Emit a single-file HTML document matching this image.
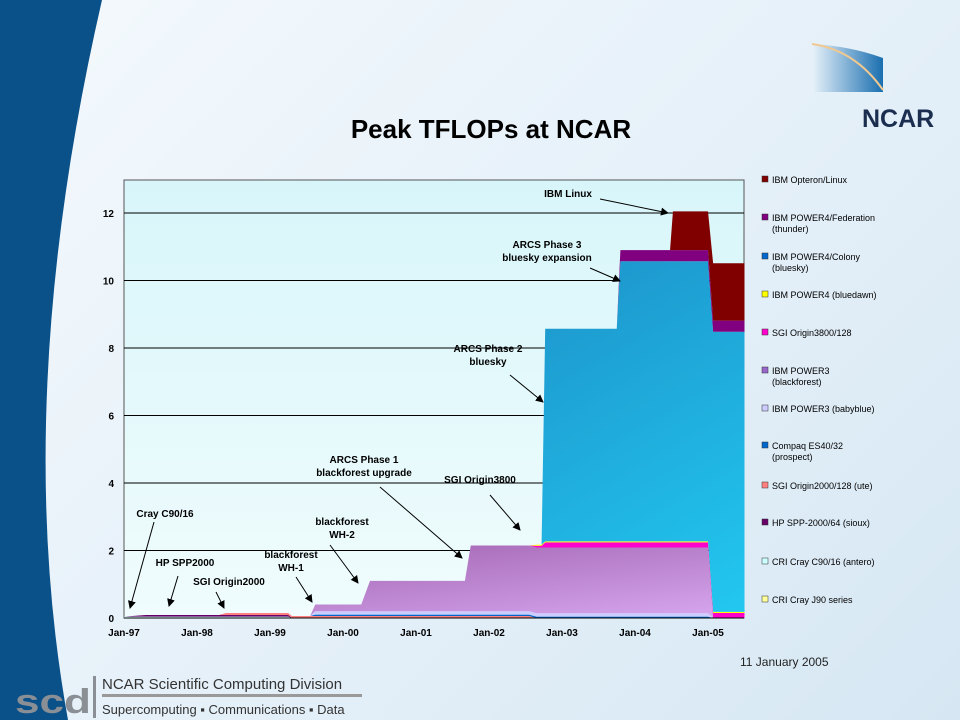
<!DOCTYPE html>
<html><head><meta charset="utf-8"><style>
body{margin:0;width:960px;height:720px;overflow:hidden;font-family:"Liberation Sans",sans-serif;}
#bg{position:absolute;left:0;top:0;width:960px;height:720px;background:linear-gradient(135deg,#f4f9fd 0%,#e3eff8 60%,#d6e7f3 100%);}
</style></head><body>
<div id="bg"></div>
<svg id="s" width="960" height="720" style="position:absolute;left:0;top:0">
<defs>
<linearGradient id="plotbg" x1="0" y1="0" x2="0" y2="1"><stop offset="0" stop-color="#d8f6fa"/><stop offset="1" stop-color="#f0fcfd"/></linearGradient>
<linearGradient id="bf" x1="0" y1="0" x2="1" y2="1"><stop offset="0" stop-color="#9a5aa8"/><stop offset="1" stop-color="#d8a8f0"/></linearGradient>
<linearGradient id="bs" x1="0" y1="0" x2="1" y2="1"><stop offset="0" stop-color="#1a7ab8"/><stop offset="1" stop-color="#22c8f0"/></linearGradient>
<linearGradient id="logo" x1="0" y1="0" x2="1" y2="0"><stop offset="0" stop-color="#e8f2fa"/><stop offset="1" stop-color="#1a6fb0"/></linearGradient>
<marker id="ar" markerWidth="8" markerHeight="8" refX="7" refY="4" orient="auto"><path d="M0,0 L8,4 L0,8 z" fill="#000"/></marker>
</defs>
<path d="M0,0 L102,0 Q10,400 68,720 L0,720 Z" fill="#0b5189"/>
<g>
<path d="M812,44 Q850,46 883,58 L883,92 L812,92 Z" fill="url(#logo)"/>
<path d="M812,44 Q855,50 883,90" stroke="#f0c890" stroke-width="2" fill="none"/>
<text x="862" y="127" font-size="25" font-weight="bold" fill="#1b2e4f">NCAR</text>
</g>
<text x="491" y="138" font-size="26" font-weight="bold" text-anchor="middle" fill="#000">Peak TFLOPs at NCAR</text>
<g id="plot"></g>
<text x="740" y="666" font-size="12" fill="#222">11 January 2005</text>
<g>
<text x="15" y="713" font-size="34" font-weight="bold" fill="#8a8f96" textLength="76" lengthAdjust="spacingAndGlyphs">scd</text>
<rect x="93" y="676" width="3" height="42" fill="#8a8f96"/>
<text x="102" y="689" font-size="15" fill="#333">NCAR Scientific Computing Division</text>
<rect x="102" y="694" width="260" height="3" fill="#999"/>
<text x="102" y="714" font-size="13" fill="#333">Supercomputing ▪ Communications ▪ Data</text>
</g>
</svg>
<script>
const t=[0,0.3,1.3,1.4,2.25,2.3,2.55,2.62,3.25,3.37,4.67,4.75,5.55,5.65,5.72,5.77,6.75,6.8,7.48,7.52,8.0,8.07,8.5];
const j90=[.02,.02,.02,.02,.02,0,0,0,0,0,0,0,0,0,0,0,0,0,0,0,0,0,0];
const c90=[.02,.02,.02,.02,.02,0,0,0,0,0,0,0,0,0,0,0,0,0,0,0,0,0,0];
const sioux=[0,.05,.05,.05,.05,0,0,0,0,0,0,0,0,0,0,0,0,0,0,0,0,0,0];
const ute=[0,0,0,.06,.06,.06,.06,.06,.06,.06,.06,.06,.06,0,0,0,0,0,0,0,0,0,0];
const prospect=[0,0,0,0,0,0,0,.04,.04,.04,.04,.04,.04,.04,.04,.04,.04,.04,.04,.04,.04,0,0];
const babyblue=[0,0,0,0,0,0,0,.1,.1,.1,.1,.1,.1,.1,.1,.1,.1,.1,.1,.1,.1,0,0];
const blackforest=[0,0,0,0,0,0,0,.2,.2,.9,.9,1.95,1.95,1.95,1.95,1.95,1.95,1.95,1.95,1.95,1.95,0,0];
const sgi3800=[0,0,0,0,0,0,0,0,0,0,0,0,0,.05,.05,.15,.15,.15,.15,.15,.15,.15,.15];
const bluedawn=[0,0,0,0,0,0,0,0,0,0,0,0,0,.03,.03,.03,.03,.03,.03,.03,.03,.03,.03];
const bluesky=[0,0,0,0,0,0,0,0,0,0,0,0,0,0,0,6.3,6.3,8.3,8.3,8.3,8.3,8.3,8.3];
const thunder=[0,0,0,0,0,0,0,0,0,0,0,0,0,0,0,0,0,.33,.33,.33,.33,.33,.33];
const linux=[0,0,0,0,0,0,0,0,0,0,0,0,0,0,0,0,0,0,0,1.15,1.15,1.7,1.7];
const yTicks=[0,2,4,6,8,10,12];
const xTicks=["Jan-97","Jan-98","Jan-99","Jan-00","Jan-01","Jan-02","Jan-03","Jan-04","Jan-05"];
const legendNames=["IBM Opteron/Linux","IBM POWER4/Federation\n(thunder)","IBM POWER4/Colony\n(bluesky)","IBM POWER4 (bluedawn)","SGI Origin3800/128","IBM POWER3\n(blackforest)","IBM POWER3 (babyblue)","Compaq ES40/32\n(prospect)","SGI Origin2000/128 (ute)","HP SPP-2000/64 (sioux)","CRI Cray C90/16 (antero)","CRI Cray J90 series"];
const NS="http://www.w3.org/2000/svg";
const X0=124,X1=744,YB=618,YT=180;
const xs=v=>X0+v*73, ys=v=>YB-v*33.75;
const g=document.getElementById('plot');
function mk(tag,at,par){const e=document.createElementNS(NS,tag);for(const k in at)e.setAttribute(k,at[k]);(par||g).appendChild(e);return e;}
const bg=mk('rect',{x:X0,y:YT,width:X1-X0,height:YB-YT,fill:'url(#plotbg)',stroke:'#555'});


yTicks.forEach(v=>{
 if(v>0){const l=mk('line',{x1:X0,x2:X1,y1:ys(v),y2:ys(v),stroke:'#000','stroke-width':1});
 
 }
 const tx=mk('text',{x:X0-10,y:ys(v)+4,'font-size':10,'font-weight':'bold','text-anchor':'end'});tx.textContent=v;
 
 
});
xTicks.forEach((s,i)=>{const tx=mk('text',{x:xs(i),y:YB+18,'font-size':10,'font-weight':'bold','text-anchor':'middle'});tx.textContent=s;
 
 });
const series=[[j90,'#ffff99','j90'],[c90,'#ccffff','c90'],[sioux,'#660066','sioux'],[ute,'#ff8080','ute'],[prospect,'#0066cc','prospect'],[babyblue,'#ccccff','babyblue'],[blackforest,'url(#bf)','blackforest'],[sgi3800,'#ff00cc','sgi3800'],[bluedawn,'#ffff00','bluedawn'],[bluesky,'url(#bs)','bluesky'],[thunder,'#800080','thunder'],[linux,'#800000','linux']];
let base=t.map(()=>0);
series.forEach(([arr,col,nm])=>{
 const top=base.map((b,i)=>b+arr[i]);
 let d='M'+t.map((v,i)=>xs(v)+','+ys(top[i])).join(' L');
 for(let i=t.length-1;i>=0;i--)d+=' L'+xs(t[i])+','+ys(base[i]);
 const p=mk('path',{d:d+'Z',fill:col,stroke:'none'});
 
 
 base=top;
});
mk('line',{x1:X0,x2:X1,y1:YB,y2:YB,stroke:'#000'});
const lg=[180,218,257,295,333,371,409,446,486,523,562,600];
const lcol=['#800000','#800080','#0066cc','#ffff00','#ff00cc','#9966cc','#ccccff','#0066cc','#ff8080','#660066','#ccffff','#ffff99'];
legendNames.forEach((n,i)=>{
 const r=mk('rect',{x:762,y:lg[i]-4,width:6,height:6,fill:lcol[i],stroke:'#333','stroke-width':0.5});
 
 
 n.split('\n').forEach((ln,j)=>{const tx=mk('text',{x:772,y:lg[i]+3+j*11,'font-size':9});tx.textContent=ln;
 
 });
});
const ann=[["IBM Linux",568,197,[600,199,668,213]],["ARCS Phase 3|bluesky expansion",547,248,[590,268,620,281]],["ARCS Phase 2|bluesky",488,352,[510,375,543,402]],["ARCS Phase 1|blackforest upgrade",364,463,[380,487,462,558]],["SGI Origin3800",480,483,[490,495,520,530]],["Cray C90/16",165,517,[154,522,130,608]],["blackforest|WH-2",342,525,[330,545,358,583]],["HP SPP2000",185,566,[178,576,169,606]],["blackforest|WH-1",291,558,[296,577,312,602]],["SGI Origin2000",229,585,[216,592,224,608]]];
ann.forEach(([s,x,y,a],i)=>{
 s.split('|').forEach((ln,j)=>{const tx=mk('text',{x:x,y:y+j*13,'font-size':10,'font-weight':'bold','text-anchor':'middle'});tx.textContent=ln;
 
 });
 const l=mk('line',{x1:a[0],y1:a[1],x2:a[2],y2:a[3],stroke:'#000','stroke-width':1,'marker-end':'url(#ar)'});
 
 
});
</script>
</body></html>
